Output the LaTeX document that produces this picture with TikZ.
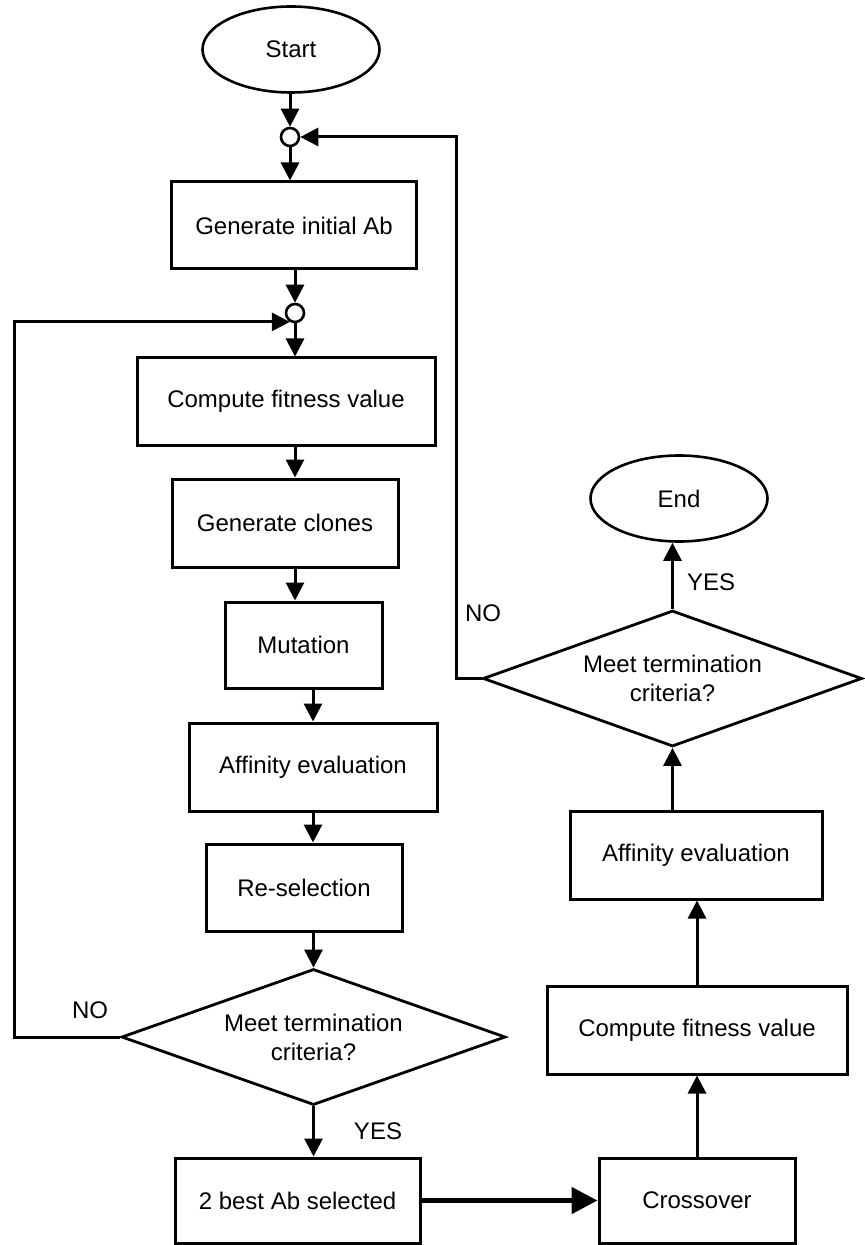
\documentclass[tikz,border=0pt]{standalone}
\usepackage{fontspec}
\setmainfont{Liberation Sans}
\usetikzlibrary{arrows.meta,shapes.geometric}

\begin{document}
\begin{tikzpicture}[
				x=0.5pt, y=-0.5pt,
				font=\fontsize{12}{14.5}\selectfont,
				>={Triangle[length=9pt,width=9pt]},
				proc/.style={
					rectangle, draw=black, line width=1.5pt, fill=white,
					minimum height=43.5pt, inner sep=2pt, align=center
				},
				term/.style={
					ellipse, draw=black, line width=1.3pt, fill=white,
					minimum width=88.5pt, minimum height=43pt, inner sep=0pt
				},
				decide/.style={
					diamond, draw=black, line width=1.4pt, fill=white, aspect=2.8,
					minimum width=192pt, minimum height=68pt, inner sep=0pt, align=center
				},
				junc/.style={
					circle, draw=black, line width=1.3pt, fill=white,
					minimum size=9pt, inner sep=0pt
				},
				arr/.style={->, line width=1.5pt},
				barr/.style={-{Triangle[length=13pt,width=13pt]}, line width=2.5pt},
				lbl/.style={inner sep=0pt}
				]
				\useasboundingbox (0,0) rectangle (864,1245);
				% main column
				\node[term] (start) at (291, 49.5) {Start};
				\node[junc] (j1) at (290, 137) {};
				\node[proc, minimum width=122.5pt] (init) at (294, 225.5) {Generate initial Ab};
				\node[junc] (j2) at (295, 313) {};
				\node[proc, minimum width=149pt] (fit1) at (286, 401.5) {Compute fitness value};
				\node[proc, minimum width=113pt, minimum height=44pt] (clones) at (285, 523) {Generate clones};
				\node[proc, minimum width=78.5pt, minimum height=43pt] (mut) at (303.5, 645) {Mutation};
				\node[proc, minimum width=124pt, minimum height=44pt] (aff1) at (313, 767) {Affinity evaluation};
				\node[proc, minimum width=98pt] (resel) at (304, 887.5) {Re-selection};
				\node[decide] (dec1) at (313.5, 1037) {Meet termination\\criteria?};
				\node[proc, minimum width=122.5pt, minimum height=42.5pt] (best) at (297.5, 1200.5) {2 best Ab selected};
				
				\draw[arr] (start.south -| j1) -- (j1.north);
				\draw[arr] (j1.south) -- (j1.south |- init.north);
				\draw[arr] (init.south -| j2) -- (j2.north);
				\draw[arr] (j2.south) -- (j2.south |- fit1.north);
				\draw[arr] (fit1.south -| j2) -- (clones.north -| j2);
				\draw[arr] (clones.south -| j2) -- (mut.north -| j2);
				\draw[arr] (mut.south -| aff1) -- (aff1.north);
				\draw[arr] (aff1.south) -- (resel.north -| aff1);
				\draw[arr] (resel.south -| dec1) -- (dec1.north);
				\draw[arr] (dec1.south) -- (best.north -| dec1);
				
				% right column
				\node[proc, minimum width=98pt, minimum height=42.5pt] (cross) at (697, 1200.5) {Crossover};
				\node[proc, minimum width=150pt, minimum height=44pt] (fit2) at (697, 1030) {Compute fitness value};
				\node[proc, minimum width=126pt, minimum height=44pt] (aff2) at (696, 855) {Affinity evaluation};
				\node[decide, minimum width=189.5pt] (dec2) at (672.5, 678.5) {Meet termination\\criteria?};
				\node[term] (end) at (679, 498.5) {End};
				
				\draw[barr] (best.east) -- (cross.west);
				\draw[arr] (cross.north) -- (fit2.south -| cross);
				\draw[arr] (fit2.north) -- (aff2.south -| fit2);
				\draw[arr] (aff2.north -| dec2) -- (dec2.south);
				\draw[arr] (dec2.north) -- (end.south -| dec2);
				
				% loops back
				\draw[arr] (dec1.west) -- ++(-106,0) |- (j2.240);
				\draw[arr] (dec2.west) -- ++(-25,0) |- (j1.east);
				
				\node[lbl] (no1)  at (90, 1010) {NO};
				\node[lbl] (yes1) at (378, 1131) {YES};
				\node[lbl] (no2)  at (483, 613) {NO};
				\node[lbl] (yes2) at (711, 582) {YES};
\end{tikzpicture}
\end{document}
